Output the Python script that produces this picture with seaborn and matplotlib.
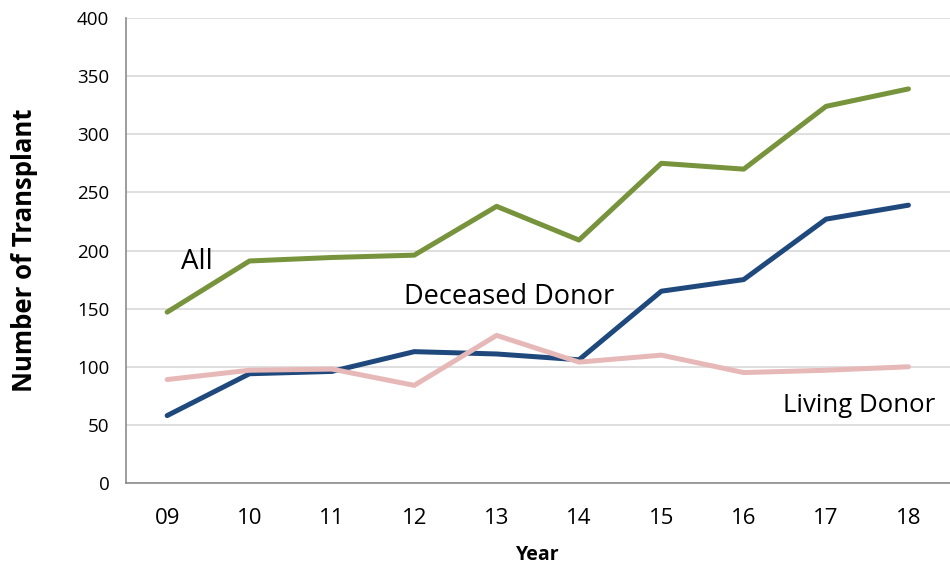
import pandas as pd
import matplotlib
matplotlib.use("Agg")
import matplotlib.pyplot as plt
import seaborn as sns
from matplotlib.ticker import FixedLocator

# Data
years = ["09", "10", "11", "12", "13", "14", "15", "16", "17", "18"]
all_tx = [147, 191, 194, 196, 238, 209, 275, 270, 324, 339]
deceased = [58, 94, 96, 113, 111, 106, 165, 175, 227, 239]
living = [89, 97, 98, 84, 127, 104, 110, 95, 97, 100]

df = pd.DataFrame({
    "Year": years * 3,
    "Count": all_tx + deceased + living,
    "Series": ["All"] * 10 + ["Deceased Donor"] * 10 + ["Living Donor"] * 10,
})

palette = {"All": "#77933C", "Deceased Donor": "#1F497D", "Living Donor": "#E6B9B8"}

sns.set_style("white")
plt.rcParams["font.family"] = ["Open Sans", "DejaVu Sans"]
plt.rcParams["text.color"] = "black"
plt.rcParams["axes.labelcolor"] = "black"
plt.rcParams["xtick.labelcolor"] = "black"
plt.rcParams["ytick.labelcolor"] = "black"

fig = plt.figure(figsize=(9.5, 5.66), dpi=100)
ax = fig.add_axes([0.1326, 0.1466, 0.867, 0.8216])

sns.lineplot(data=df, x="Year", y="Count", hue="Series", palette=palette,
             linewidth=3.6, legend=False, ax=ax, sort=False)

ax.set_xlim(-0.5, 9.5)
ax.set_ylim(0, 400)
ax.set_yticks(range(0, 401, 50))
ax.yaxis.grid(True, color="#d9d9d9", linewidth=1.2)
ax.set_axisbelow(True)

for s in ["top", "right"]:
    ax.spines[s].set_visible(False)
for s in ["left", "bottom"]:
    ax.spines[s].set_color("#8c8c8c")
    ax.spines[s].set_linewidth(1.2)

ax.tick_params(axis="y", which="major", length=5, color="#8c8c8c", labelsize=13.5, pad=7)
ax.tick_params(axis="x", which="major", length=0, labelsize=16, pad=18)
ax.xaxis.set_minor_locator(FixedLocator([i + 0.5 for i in range(-1, 10)]))
ax.tick_params(axis="x", which="minor", length=6, color="#8c8c8c", width=1.2)

ax.set_ylabel("Number of Transplant", fontsize=18.5, fontweight="bold")
ax.yaxis.set_label_coords(-0.1065, 0.5)
ax.set_xlabel("Year", fontsize=14, fontweight="bold", va="top")
ax.xaxis.set_label_coords(0.5, -0.133)

ax.text(0.17, 190, "All", fontsize=20, va="center", ha="left")
ax.text(2.88, 160, "Deceased Donor", fontsize=19.5, va="center", ha="left")
ax.text(7.48, 67, "Living Donor", fontsize=18.5, va="center", ha="left")

fig.savefig("out.png", dpi=100)
